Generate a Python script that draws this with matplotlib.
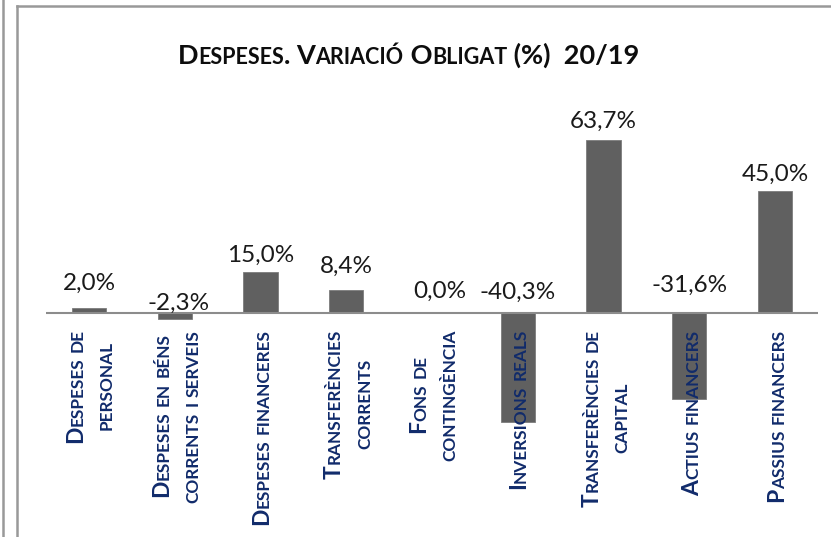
import matplotlib
matplotlib.use("Agg")
import matplotlib.pyplot as plt
from matplotlib.font_manager import FontProperties, findfont, get_font
from matplotlib.lines import Line2D

# data
categories = [
    "Despeses de\npersonal",
    "Despeses en béns\ncorrents i serveis",
    "Despeses financeres",
    "Transferències\ncorrents",
    "Fons de\ncontingència",
    "Inversions reals",
    "Transferències de\ncapital",
    "Actius financers",
    "Passius financers",
]
values = [2.0, -2.3, 15.0, 8.4, 0.0, -40.3, 63.7, -31.6, 45.0]
title = "Despeses. Variació Obligat (%)  20/19"

# value label nudges in pixels (as placed in the original)
label_lift = [17.6, 3, 10, 17, 15, 14, 12, 21, 10]
label_dx = [1, 4, 0, 0, 8, 0, 0, 0, 0]

W, H, DPI = 831, 537, 100
fig = plt.figure(figsize=(W / DPI, H / DPI), dpi=DPI)
fig.patch.set_facecolor("white")

# axes: zero line at y=313px, 2.716 px per percentage point
ax = fig.add_axes([46 / W, 7 / H, (818 - 46) / W, (530 - 100) / H])
scale = 2.716
ax.set_xlim(-0.5, len(values) - 0.5)
ax.set_ylim(-(530 - 313) / scale, (313 - 100) / scale)
ax.axis("off")

xs = range(len(values))
ax.bar(xs, values, width=0.4, color="#606060", edgecolor="#7c7c7c", linewidth=0.6, zorder=2)
ax.axhline(0, color="#8c8c8c", lw=1.5, zorder=3)

for i, v in enumerate(values):
    txt = f"{v:.1f}%".replace(".", ",")
    ax.annotate(txt, (i, max(v, 0)),
                xytext=(label_dx[i] * 72 / DPI, label_lift[i] * 72 / DPI),
                textcoords="offset points", ha="center", va="baseline",
                fontsize=17.5, family="Lato", color="#1a1a1a", zorder=4)

# small caps text drawn piece by piece
renderer = fig.canvas.get_renderer()


def advance(s, fp):
    w1 = renderer.get_text_width_height_descent("H" + s + "H", fp, ismath=False)[0]
    w0 = renderer.get_text_width_height_descent("HH", fp, ismath=False)[0]
    return w1 - w0


def ink_offset(s, fp):
    # left side bearing that Agg drops when the text is rotated
    font = get_font(findfont(fp))
    font.set_size(fp.get_size_in_points(), DPI)
    font.set_text(s, 0.0)
    return font.get_bitmap_offset()[0] / 64.0


def runs(s, big, small):
    out = []
    for ch in s:
        fp = small if ch.islower() else big
        if out and out[-1][1] is fp:
            out[-1][0] += ch.upper()
        else:
            out.append([ch.upper(), fp])
    return out


def draw_line(pieces, x0, y0, rot, color):
    pos = 0
    for s, fp in pieces:
        if rot == 0:
            x, y = x0 + pos, y0
        else:
            lsb = ink_offset(s, fp) if s.strip() else 0
            x, y = x0 - lsb, y0 + pos + lsb
        fig.text(x / W, y / H, s, fontproperties=fp, rotation=rot,
                 rotation_mode="anchor", ha="left", va="baseline",
                 color=color, zorder=10)
        pos += advance(s, fp)


lab_big = FontProperties(family="Lato", weight="bold", size=16.5)
lab_small = FontProperties(family="Lato", weight="bold", size=12.4)
navy = "#112b6b"
pitch, desc, top = 29.4, 5.0, 330

for i, lab in enumerate(categories):
    lines = lab.split("\n")
    pieces = [runs(l, lab_big, lab_small) for l in lines]
    lens = [sum(advance(s, fp) for s, fp in p) for p in pieces]
    lmax = max(lens)
    cx = ax.transData.transform((i, 0))[0]
    n = len(lines)
    for k, (p, L) in enumerate(zip(pieces, lens)):
        xb = cx - n * pitch / 2 + (k + 1) * pitch - desc
        y_start = H - top - (lmax + L) / 2
        draw_line(p, xb, y_start, 90, navy)

t_big = FontProperties(family="Lato", weight="bold", size=19.5)
t_small = FontProperties(family="Lato", weight="bold", size=15.5)
tp = runs(title, t_big, t_small)
tl = sum(advance(s, fp) for s, fp in tp)
draw_line(tp, 408.5 - tl / 2, H - 63.5, 0, "#0d0d0d")

# frame lines around the chart
for bx, by in [((3.5, 3.5), (0, H)), ((17, 17), (6, H)), ((17, W), (6, 6))]:
    fig.add_artist(Line2D([v / W for v in bx], [1 - v / H for v in by],
                          color="#999999", lw=1.8))

fig.savefig("out.png", dpi=DPI)
